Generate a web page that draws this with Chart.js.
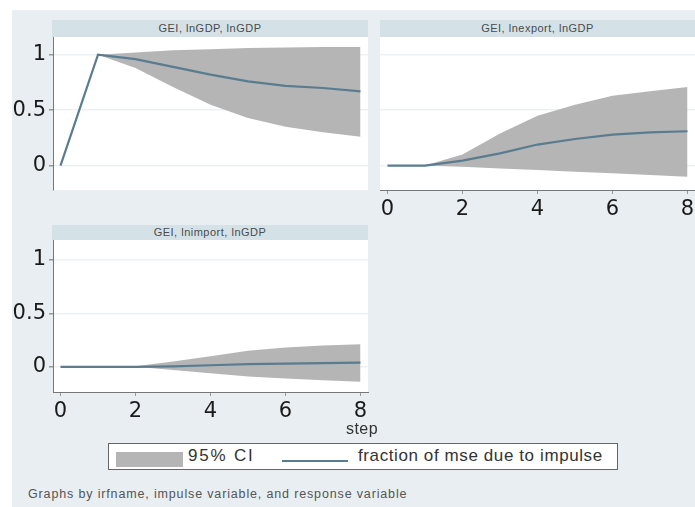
<!DOCTYPE html>
<html>
<head>
<meta charset="utf-8">
<script src="https://cdn.jsdelivr.net/npm/chart.js@4.4.1/dist/chart.umd.min.js"></script>
<style>
  body { margin: 0; background: #fff; width: 695px; height: 507px; overflow: hidden; position: relative; font-family: "Liberation Sans", Arial, sans-serif; }
  #fig { position: absolute; left: 12px; top: 10px; width: 683px; height: 497px; background: #e8eef1; }
  .hdr { position: absolute; background: #d4e2e8; color: #4a4a4a; font-size: 11px; letter-spacing: 0.5px; text-align: center; }
  .cv { position: absolute; }
  #legend { position: absolute; left: 108px; top: 443px; width: 508px; height: 25px; background: #fff; border: 1px solid #666; }
  #legend .sw { position: absolute; left: 7px; top: 8px; width: 67px; height: 15px; background: #b5b5b5; }
  #legend .ln { position: absolute; left: 173px; top: 16px; width: 66px; height: 2px; background: #5a7c90; }
  #legend .t { position: absolute; top: 2px; font-size: 17px; color: #333; white-space: nowrap; }
  #steptitle { position: absolute; left: 337px; top: 420px; width: 50px; text-align: center; font-size: 16px; letter-spacing: 0.5px; color: #333; }
  #note { position: absolute; left: 28px; top: 487px; font-size: 12.5px; letter-spacing: 0.85px; color: #555; white-space: nowrap; }
</style>
</head>
<body>
<div id="fig"></div>
<div class="hdr" style="left:52px; top:20px; width:316px; height:17px; line-height:17px;">GEI, lnGDP, lnGDP</div>
<div class="hdr" style="left:380px; top:20px; width:315px; height:17px; line-height:17px;">GEI, lnexport, lnGDP</div>
<div class="hdr" style="left:52px; top:225px; width:316px; height:15px; line-height:15px;">GEI, lnimport, lnGDP</div>

<canvas id="c1" class="cv" style="left:0px; top:37px;" width="370" height="156"></canvas>
<canvas id="c2" class="cv" style="left:378px; top:37px;" width="317" height="185"></canvas>
<canvas id="c3" class="cv" style="left:0px; top:240px;" width="370" height="185"></canvas>

<div id="steptitle">step</div>
<div id="legend">
  <div class="sw"></div>
  <div class="t" style="left:79px; letter-spacing:1.8px;">95% CI</div>
  <div class="ln"></div>
  <div class="t" style="left:249px; letter-spacing:0.6px;">fraction of mse due to impulse</div>
</div>
<div id="note">Graphs by irfname, impulse variable, and response variable</div>

<script>
const steps = [0, 1, 2, 3, 4, 5, 6, 7, 8];
const xTicks = [0, 2, 4, 6, 8];
const yTicks = [0, 0.5, 1];

// GEI, lnGDP, lnGDP
const gdpFrac  = [0, 1, 0.96, 0.89, 0.82, 0.76, 0.72, 0.70, 0.67];
const gdpUpper = [0, 1, 1.02, 1.04, 1.05, 1.06, 1.065, 1.07, 1.07];
const gdpLower = [0, 1, 0.88, 0.71, 0.55, 0.43, 0.35, 0.30, 0.26];

// GEI, lnexport, lnGDP
const expFrac  = [0, 0, 0.045, 0.11, 0.19, 0.24, 0.28, 0.30, 0.31];
const expUpper = [0, 0, 0.10, 0.29, 0.45, 0.55, 0.63, 0.67, 0.71];
const expLower = [0, 0, -0.01, -0.025, -0.04, -0.055, -0.07, -0.085, -0.10];

// GEI, lnimport, lnGDP
const impFrac  = [0, 0, 0, 0.005, 0.015, 0.025, 0.03, 0.035, 0.04];
const impUpper = [0, 0, 0.005, 0.05, 0.10, 0.15, 0.18, 0.20, 0.21];
const impLower = [0, 0, 0, -0.03, -0.06, -0.09, -0.11, -0.125, -0.14];

const ciColor = '#b5b5b5';
const lineColor = '#5a7c90';

const plotBg = {
  id: 'plotBg',
  beforeDraw(chart) {
    const a = chart.chartArea, ctx = chart.ctx;
    ctx.save();
    ctx.fillStyle = '#ffffff';
    ctx.fillRect(a.left, a.top, a.right - a.left, a.bottom - a.top);
    ctx.restore();
  }
};

function pts(vals) {
  return steps.map((s, i) => ({ x: s, y: vals[i] }));
}

function makePanel(id, frac, upper, lower, showX, showY, xHeight, pad, yMin, yMax) {
  new Chart(document.getElementById(id), {
    type: 'line',
    data: {
      datasets: [
        { data: pts(upper), fill: '+1', backgroundColor: ciColor, borderWidth: 0, pointRadius: 0, order: 2 },
        { data: pts(lower), fill: false, borderWidth: 0, pointRadius: 0, order: 1 },
        { data: pts(frac), fill: false, borderColor: lineColor, borderWidth: 2.2, pointRadius: 0, order: 0 }
      ]
    },
    options: {
      responsive: false,
      animation: false,
      layout: { padding: pad },
      plugins: { legend: { display: false }, tooltip: { enabled: false } },
      elements: { line: { tension: 0 } },
      scales: {
        x: {
          type: 'linear',
          min: -0.2,
          max: 8.2,
          display: showX,
          afterBuildTicks: s => { s.ticks = xTicks.map(v => ({ value: v })); },
          afterFit: s => { s.height = xHeight; s.paddingLeft = 0; s.paddingRight = 0; },
          border: { display: true, color: '#777', width: 1 },
          grid: { drawOnChartArea: false, tickLength: 4, tickColor: '#999' },
          ticks: { color: '#1a1a1a', padding: 3, font: { family: 'DejaVu Sans', size: 21 } }
        },
        y: {
          min: yMin,
          max: yMax,
          afterBuildTicks: s => { s.ticks = yTicks.map(v => ({ value: v })); },
          afterFit: s => { s.width = showY ? 53 : 0; s.paddingTop = 0; s.paddingBottom = 0; },
          border: { display: showY, color: '#777', width: 1 },
          grid: { color: '#edf1f4', lineWidth: 1.5, drawTicks: showY, tickLength: 4, tickColor: '#999' },
          ticks: { display: showY, color: '#1a1a1a', padding: 3, font: { family: 'DejaVu Sans', size: 21 }, callback: v => String(v) }
        }
      }
    },
    plugins: [plotBg]
  });
}

makePanel('c1', gdpFrac, gdpUpper, gdpLower, false, true, 0, { top: 0, right: 2, bottom: 3, left: 0 }, -0.22, 1.16);
makePanel('c2', expFrac, expUpper, expLower, true, false, 32, { top: 0, right: 0, bottom: 0, left: 2 }, -0.22, 1.16);
makePanel('c3', impFrac, impUpper, impLower, true, true, 33, { top: 0, right: 2, bottom: 0, left: 0 }, -0.235, 1.185);
</script>
</body>
</html>
